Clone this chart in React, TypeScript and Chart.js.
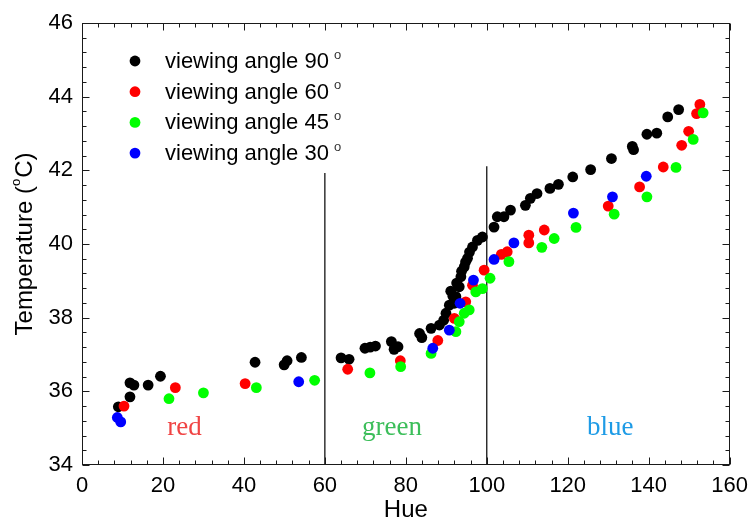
import React, { useEffect, useRef } from 'react';
import { Chart, registerables } from 'chart.js';

Chart.register(...registerables);

// Hue / temperature readings for each viewing angle
const hue90 = [8.98, 11.85, 11.85, 12.83, 16.34, 19.38, 42.75, 49.94, 50.67, 54.2, 64.0, 65.98, 69.9, 71.2, 72.5, 76.43, 77.1, 78.07, 83.4, 83.96, 86.24, 88.3, 89.35, 89.92, 90.75, 91.1, 91.63, 91.98, 92.37, 92.55, 93.2, 93.6, 93.77, 94.43, 94.75, 95.24, 95.73, 96.47, 97.7, 98.92, 101.79, 102.6, 104.24, 105.86, 109.54, 110.77, 112.41, 115.6, 117.7, 121.24, 125.66, 130.8, 135.95, 136.27, 139.56, 142.0, 144.7, 147.4];
const temp90 = [35.58, 35.85, 36.23, 36.17, 36.17, 36.41, 36.79, 36.72, 36.83, 36.92, 36.91, 36.87, 37.17, 37.2, 37.23, 37.35, 37.14, 37.21, 37.57, 37.46, 37.71, 37.8, 37.93, 38.12, 38.34, 38.72, 38.58, 38.39, 38.57, 38.94, 38.84, 39.11, 39.26, 39.38, 39.51, 39.61, 39.78, 39.92, 40.1, 40.19, 40.46, 40.74, 40.74, 40.92, 41.05, 41.24, 41.37, 41.51, 41.62, 41.82, 42.02, 42.32, 42.65, 42.56, 42.98, 43.01, 43.45, 43.65];

const hue60 = [10.38, 23.06, 40.3, 65.64, 78.64, 87.9, 92.0, 94.8, 96.47, 99.34, 103.6, 105.05, 110.38, 110.38, 114.2, 130.0, 137.75, 143.6, 148.15, 149.87, 151.83, 152.64];
const temp60 = [35.6, 36.1, 36.21, 36.6, 36.83, 37.38, 37.98, 38.43, 38.88, 39.29, 39.72, 39.79, 40.24, 40.03, 40.38, 41.03, 41.55, 42.09, 42.68, 43.06, 43.54, 43.79];

const hue45 = [21.49, 30.0, 43.07, 57.47, 71.13, 78.73, 86.24, 92.37, 93.2, 94.43, 95.66, 97.28, 98.92, 100.81, 105.47, 113.6, 116.65, 122.05, 131.47, 139.56, 146.75, 151.0, 153.45];
const temp45 = [35.8, 35.96, 36.1, 36.3, 36.5, 36.67, 37.03, 37.62, 37.89, 38.12, 38.21, 38.7, 38.79, 39.07, 39.52, 39.91, 40.15, 40.45, 40.81, 41.28, 42.08, 42.84, 43.56];

const hue30 = [8.73, 9.57, 53.54, 86.66, 90.75, 93.4, 96.71, 101.79, 106.7, 121.4, 131.05, 139.4];
const temp30 = [35.29, 35.17, 36.26, 37.17, 37.66, 38.39, 39.02, 39.58, 40.03, 40.84, 41.28, 41.84];

// Colour-region boundaries (hue) and the height each divider reaches
const boundaryHue = [60, 100];
const boundaryTop = [41.93, 42.11];

// Colour-region captions
const regionNames = ['red', 'green', 'blue'];
const regionHue = [25.3, 76.6, 130.5];
const regionTemp = 34.81;

const legendAngles = ['90', '60', '45', '30'];

// Axis ranges
const xMin = 0, xMax = 160, xMajor = 20, xMinor = 4;
const yMin = 34, yMax = 46, yMajor = 2, yMinor = 0.4;

const SANS = '"Liberation Sans", Arial, sans-serif';
const SERIF = '"Liberation Serif", "Times New Roman", serif';
const seriesColors = ['#000000', '#ff0000', '#00ff00', '#0000ff'];
const regionColors = ['#f04444', '#3cbe5a', '#1e9be6'];

const toPoints = (xs: number[], ys: number[]) => xs.map((x, i) => ({ x, y: ys[i] }));

const decorations = {
  id: 'decorations',
  afterDraw(chart: any) {
    const { ctx, chartArea: a, scales } = chart;
    const xs = scales.x, ys = scales.y;
    ctx.save();

    // frame
    ctx.strokeStyle = '#1a1a1a';
    ctx.lineWidth = 1;
    const L = Math.round(a.left) + 0.5, R = Math.round(a.right) - 0.5;
    const T = Math.round(a.top) + 0.5, B = Math.round(a.bottom) - 0.5;
    ctx.strokeRect(L, T, R - L, B - T);

    // inward ticks on all four sides
    ctx.beginPath();
    const nx = Math.round((xMax - xMin) / xMinor);
    for (let i = 0; i <= nx; i++) {
      const v = xMin + i * xMinor;
      const len = (i * xMinor) % xMajor === 0 ? 7 : 4;
      const px = Math.round(xs.getPixelForValue(v)) + 0.5;
      ctx.moveTo(px, B); ctx.lineTo(px, B - len);
      ctx.moveTo(px, T); ctx.lineTo(px, T + len);
    }
    const ny = Math.round((yMax - yMin) / yMinor);
    for (let i = 0; i <= ny; i++) {
      const v = yMin + i * yMinor;
      const len = i % Math.round(yMajor / yMinor) === 0 ? 7 : 4;
      const py = Math.round(ys.getPixelForValue(v)) + 0.5;
      ctx.moveTo(L, py); ctx.lineTo(L + len, py);
      ctx.moveTo(R, py); ctx.lineTo(R - len, py);
    }
    ctx.stroke();

    // region captions
    ctx.font = `27px ${SERIF}`;
    ctx.textAlign = 'center';
    ctx.textBaseline = 'alphabetic';
    regionNames.forEach((name, i) => {
      ctx.fillStyle = regionColors[i];
      ctx.fillText(name, xs.getPixelForValue(regionHue[i]), ys.getPixelForValue(regionTemp));
    });

    // legend
    ctx.textAlign = 'left';
    ctx.textBaseline = 'middle';
    legendAngles.forEach((ang, i) => {
      const cy = a.top + 38 + i * 30.7;
      const mx = a.left + 53;
      ctx.fillStyle = seriesColors[i];
      ctx.beginPath();
      ctx.arc(mx, cy, 5.4, 0, Math.PI * 2);
      ctx.fill();
      ctx.fillStyle = '#000';
      ctx.font = `22px ${SANS}`;
      const label = `viewing angle ${ang}`;
      const tx = a.left + 83;
      ctx.fillText(label, tx, cy + 1);
      const w = ctx.measureText(label).width;
      ctx.font = `13px ${SANS}`;
      ctx.fillStyle = '#333';
      ctx.fillText('o', tx + w + 5, cy - 6);
    });

    // x-axis title
    ctx.fillStyle = '#000';
    ctx.font = `24px ${SANS}`;
    ctx.textAlign = 'center';
    ctx.textBaseline = 'middle';
    ctx.fillText('Hue', (a.left + a.right) / 2, a.bottom + 45);

    // y-axis title with superscript degree
    ctx.translate(24, (a.top + a.bottom) / 2);
    ctx.rotate(-Math.PI / 2);
    ctx.textAlign = 'left';
    const p1 = 'Temperature (', p2 = 'o', p3 = 'C)';
    ctx.font = `24px ${SANS}`;
    const w1 = ctx.measureText(p1).width;
    const w3 = ctx.measureText(p3).width;
    ctx.font = `13px ${SANS}`;
    const w2 = ctx.measureText(p2).width;
    const total = w1 + w2 + 1 + w3;
    let x0 = -total / 2;
    ctx.font = `24px ${SANS}`;
    ctx.fillText(p1, x0, 1);
    x0 += w1;
    ctx.font = `13px ${SANS}`;
    ctx.fillText(p2, x0, -8);
    x0 += w2 + 1;
    ctx.font = `24px ${SANS}`;
    ctx.fillText(p3, x0, 1);

    ctx.restore();
  },
};

export default function App() {
  const canvasRef = useRef<HTMLCanvasElement | null>(null);

  useEffect(() => {
    if (!canvasRef.current) return;
    const series = [
      { data: toPoints(hue90, temp90), order: 4 },
      { data: toPoints(hue60, temp60), order: 3 },
      { data: toPoints(hue45, temp45), order: 2 },
      { data: toPoints(hue30, temp30), order: 1 },
    ].map((s, i) => ({
      label: `viewing angle ${legendAngles[i]}`,
      data: s.data,
      order: s.order,
      backgroundColor: seriesColors[i],
      borderColor: seriesColors[i],
      pointRadius: 5.4,
      pointBorderWidth: 0,
      showLine: false,
    }));
    const dividers = boundaryHue.map((h, i) => ({
      label: `boundary ${h}`,
      data: [{ x: h, y: yMin }, { x: h, y: boundaryTop[i] }],
      order: 5,
      showLine: true,
      borderColor: '#000',
      borderWidth: 1.2,
      pointRadius: 0,
    }));

    const chart = new Chart(canvasRef.current, {
      type: 'scatter',
      data: { datasets: [...series, ...dividers] as any },
      options: {
        responsive: false,
        animation: false,
        layout: { padding: { left: 0, right: 22, top: 23, bottom: 0 } },
        plugins: { legend: { display: false }, tooltip: { enabled: false } },
        scales: {
          x: {
            type: 'linear',
            min: xMin,
            max: xMax,
            afterFit: (s: any) => { s.height = 57; },
            grid: { display: false, drawTicks: false },
            border: { display: false },
            ticks: { stepSize: xMajor, padding: 8, color: '#000', font: { family: SANS, size: 22 } },
          },
          y: {
            type: 'linear',
            min: yMin,
            max: yMax,
            afterFit: (s: any) => { s.width = 82; },
            grid: { display: false, drawTicks: false },
            border: { display: false },
            ticks: { stepSize: yMajor, padding: 9, color: '#000', font: { family: SANS, size: 22 } },
          },
        },
      },
      plugins: [decorations],
    });
    return () => chart.destroy();
  }, []);

  return (
    <div style={{ position: 'fixed', left: 0, top: 0, width: 756, height: 522, background: '#fff' }}>
      <canvas ref={canvasRef} width={756} height={522} style={{ display: 'block' }} />
    </div>
  );
}
